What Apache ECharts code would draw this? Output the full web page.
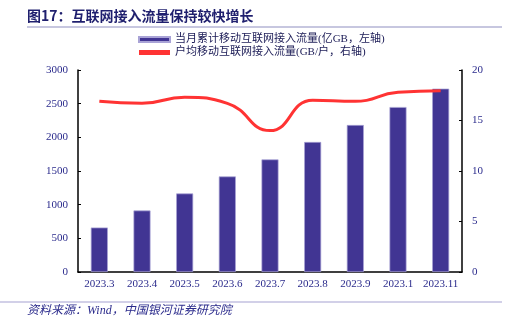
<!DOCTYPE html>
<html><head><meta charset="utf-8">
<script src="https://cdn.jsdelivr.net/npm/echarts@6/dist/echarts.min.js"></script>
<style>html,body{margin:0;padding:0;background:#fff}#c{width:513px;height:328px}</style>
</head><body><div id="c"></div>
<script>
const categories = ['2023.3','2023.4','2023.5','2023.6','2023.7','2023.8','2023.9','2023.1','2023.11'];
const cumulativeTraffic = [660, 913, 1166, 1419, 1672, 1931, 2183, 2450, 2723];
const perUserTraffic = [16.9, 16.7, 17.3, 16.7, 14.0, 17.0, 16.9, 17.8, 17.95];
const leftTicks = [0, 500, 1000, 1500, 2000, 2500, 3000];
const rightTicks = [0, 5, 10, 15, 20];
const seriesNames = ['当月累计移动互联网接入流量(亿GB，左轴)', '户均移动互联网接入流量(GB/户，右轴)'];

const chart = echarts.init(document.getElementById('c'));
const labelColor = '#2b2b8c';
const serif = '"Liberation Serif","DejaVu Serif","Noto Sans CJK SC",serif';
chart.setOption({
  animation: false,
  textStyle: { fontFamily: serif },
  graphic: [
    { type: 'text', left: 27, top: 9, style: { text: '图17：互联网接入流量保持较快增长', fontSize: 14, fontWeight: 'bold', fill: '#1f1f6e', fontFamily: '"Noto Sans CJK SC",sans-serif' } },
    { type: 'line', shape: { x1: 27, y1: 27, x2: 502, y2: 27 }, style: { stroke: '#8f8fc0', lineWidth: 1 } },
    { type: 'line', shape: { x1: 0, y1: 302, x2: 502, y2: 302 }, style: { stroke: '#c3c0e0', lineWidth: 1.5 } },
    { type: 'text', left: 27, top: 305, style: { text: '资料来源：Wind，中国银河证券研究院', fontSize: 12, fontStyle: 'italic', fill: '#2b2b8c', fontFamily: '"Liberation Serif","Noto Sans CJK SC",serif' } }
  ],
  legend: {
    orient: 'vertical', left: 133, top: 29, itemWidth: 31, itemHeight: 5, itemGap: 2,
    textStyle: { fontSize: 11, color: '#1a1a55', fontFamily: serif },
    data: [
      { name: seriesNames[0], icon: 'rect' },
      { name: seriesNames[1], icon: 'rect', itemStyle: { color: '#ff3333' } }
    ]
  },
  grid: { left: 78, right: 51, top: 70, bottom: 56 },
  xAxis: {
    type: 'category', data: categories,
    axisLine: { lineStyle: { color: '#000', width: 1.5 } },
    axisTick: { inside: true, length: 3, lineStyle: { color: '#000' } },
    axisLabel: { color: labelColor, fontSize: 11, margin: 7, interval: 0 }
  },
  yAxis: [
    { type: 'value', min: leftTicks[0], max: leftTicks[leftTicks.length-1], interval: 500,
      axisLine: { show: true, lineStyle: { color: '#000', width: 1.5 } },
      axisTick: { show: true, inside: true, length: 3, lineStyle: { color: '#000' } },
      axisLabel: { color: labelColor, fontSize: 11, margin: 10, formatter: v => String(v) }, splitLine: { show: false } },
    { type: 'value', min: rightTicks[0], max: rightTicks[rightTicks.length-1], interval: 5,
      axisLine: { show: true, lineStyle: { color: '#000', width: 1.5 } },
      axisTick: { show: true, inside: true, length: 3, lineStyle: { color: '#000' } },
      axisLabel: { color: labelColor, fontSize: 11, margin: 10, formatter: v => String(v) }, splitLine: { show: false } }
  ],
  series: [
    { name: seriesNames[0], type: 'bar', data: cumulativeTraffic, barWidth: 17, yAxisIndex: 0,
      itemStyle: { color: '#413593', borderColor: '#a9a3d6', borderWidth: 0.7 } },
    { name: seriesNames[1], type: 'line', data: perUserTraffic, yAxisIndex: 1, smooth: 0.5,
      symbol: 'none', lineStyle: { color: '#ff3333', width: 3 }, itemStyle: { color: '#ff3333' } }
  ]
});
</script></body></html>
